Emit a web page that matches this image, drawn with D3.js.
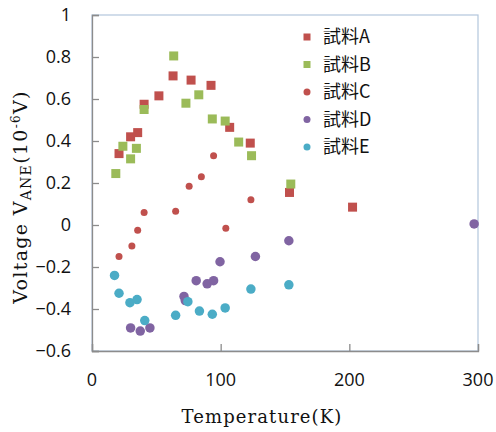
<!DOCTYPE html>
<html>
<head>
<meta charset="utf-8">
<script src="https://cdn.jsdelivr.net/npm/d3@7"></script>
<style>
  body { margin: 0; background: #fff; }
  svg { display: block; }
</style>
</head>
<body>
<svg id="chart"></svg>
<script>
// 試料ごとの測定値 [温度K, 電圧]
const seriesNames = ["試料A", "試料B", "試料C", "試料D", "試料E"];
const sampleA = [[21,0.34],[30,0.42],[35.5,0.44],[40.5,0.575],[52,0.615],[63,0.71],[77,0.69],[92.5,0.665],[107,0.465],[123,0.39],[153.5,0.155],[202.5,0.085]];
const sampleB = [[18.5,0.245],[24,0.375],[30,0.315],[34.5,0.365],[40.5,0.55],[63.5,0.805],[73,0.58],[83,0.62],[93.5,0.505],[103.5,0.495],[114,0.395],[124,0.33],[154.5,0.195]];
const sampleC = [[21,-0.15],[31,-0.1],[35.5,-0.025],[40.5,0.06],[65,0.065],[75.5,0.185],[85,0.23],[94.5,0.33],[104,-0.015],[123.5,0.12]];
const sampleD = [[30,-0.49],[37.5,-0.505],[45,-0.49],[71.5,-0.34],[72.5,-0.36],[81,-0.265],[89.5,-0.28],[94.5,-0.265],[99.5,-0.175],[127,-0.15],[153,-0.075],[297,0.005]];
const sampleE = [[17.5,-0.24],[21,-0.325],[29.5,-0.37],[35,-0.355],[41,-0.455],[65,-0.43],[74.5,-0.365],[83.5,-0.41],[93.5,-0.425],[103.5,-0.395],[123.5,-0.305],[153,-0.285]];
const xTicks = [0, 100, 200, 300];
const yTicks = [-0.6, -0.4, -0.2, 0, 0.2, 0.4, 0.6, 0.8, 1];

const W = 496, H = 432;
const m = { left: 92, right: 18, top: 15, bottom: 81 };

const svg = d3.select("#chart").attr("width", W).attr("height", H);

const x = d3.scaleLinear().domain([0, 300]).range([m.left, W - m.right]);
const y = d3.scaleLinear().domain([-0.6, 1]).range([H - m.bottom, m.top]);

//枠
svg.append("rect")
  .attr("x", x(0)).attr("y", y(1))
  .attr("width", x(300) - x(0)).attr("height", y(-0.6) - y(1))
  .attr("fill", "none").attr("stroke", "#b3c6dc").attr("stroke-width", 1.2);

const fmt = d => d === 0 ? "0" : d3.format("")(+d.toFixed(1));

const gy = svg.append("g")
  .attr("transform", `translate(${x(0)},0)`)
  .call(d3.axisRight(y).tickValues(yTicks).tickSize(7).tickFormat(""));
const gx = svg.append("g")
  .attr("transform", `translate(0,${y(-0.6)})`)
  .call(d3.axisTop(x).tickValues(xTicks).tickSize(7).tickFormat(""));
[gy, gx].forEach(g => {
  g.select(".domain").attr("stroke", "#8c8c8c").attr("stroke-width", 1.3);
  g.selectAll(".tick line").attr("stroke", "#8c8c8c").attr("stroke-width", 1.3);
});

//目盛りラベル
svg.append("g").selectAll("text")
  .data(yTicks).join("text")
  .attr("x", 71).attr("y", d => y(d)).attr("dy", "0.35em")
  .attr("text-anchor", "end")
  .attr("font-family", "'Open Sans', 'Noto Sans', sans-serif").attr("font-size", 18)
  .attr("fill", "#111")
  .text(fmt);
svg.append("g").selectAll("text")
  .data(xTicks).join("text")
  .attr("x", d => x(d)).attr("y", 386)
  .attr("text-anchor", "middle")
  .attr("font-family", "'Open Sans', 'Noto Sans', sans-serif").attr("font-size", 18)
  .attr("fill", "#111")
  .text(d => d);

//軸タイトル
svg.append("text")
  .attr("x", 262).attr("y", 423)
  .attr("text-anchor", "middle")
  .attr("font-family", "'DejaVu Serif', serif").attr("font-size", 18)
  .attr("letter-spacing", 1.1).attr("fill", "#111")
  .text("Temperature(K)");

const yt = svg.append("text")
  .attr("transform", "translate(27,197) rotate(-90)")
  .attr("text-anchor", "middle")
  .attr("font-family", "'DejaVu Serif', serif").attr("font-size", 19)
  .attr("letter-spacing", 1.3).attr("fill", "#111");
yt.append("tspan").text("Voltage V");
yt.append("tspan").attr("font-size", 14).attr("dy", 4).text("ANE");
yt.append("tspan").attr("dy", -4).text("(10");
yt.append("tspan").attr("font-size", 12).attr("dy", -7).text("-6");
yt.append("tspan").attr("dy", 7).text("V)");

//データ
const series = [
  { name: seriesNames[0], data: sampleA, color: "#c0504d", shape: "square", size: 9 },
  { name: seriesNames[1], data: sampleB, color: "#9bbb59", shape: "square", size: 9 },
  { name: seriesNames[2], data: sampleC, color: "#c0504d", shape: "circle", size: 7 },
  { name: seriesNames[3], data: sampleD, color: "#8064a2", shape: "circle", size: 9.5 },
  { name: seriesNames[4], data: sampleE, color: "#4bacc6", shape: "circle", size: 9.5 }
];

function drawMarker(g, s, cx, cy, size) {
  if (s.shape === "square") {
    g.append("rect")
      .attr("x", cx - size / 2).attr("y", cy - size / 2)
      .attr("width", size).attr("height", size)
      .attr("fill", s.color);
  } else {
    g.append("circle")
      .attr("cx", cx).attr("cy", cy).attr("r", size / 2)
      .attr("fill", s.color);
  }
}

series.forEach(s => {
  const g = svg.append("g");
  s.data.forEach(d => drawMarker(g, s, x(d[0]), y(d[1]), s.size));
});

//凡例
const leg = svg.append("g");
series.forEach((s, i) => {
  const cy = 37 + i * 27.5;
  drawMarker(leg, s, 307, cy, 7);
  leg.append("text")
    .attr("x", 323).attr("y", cy).attr("dy", "0.36em")
    .attr("font-family", "'Noto Sans CJK JP', 'Noto Sans', sans-serif").attr("font-size", 18)
    .attr("fill", "#111")
    .text(s.name);
});
</script>
</body>
</html>
